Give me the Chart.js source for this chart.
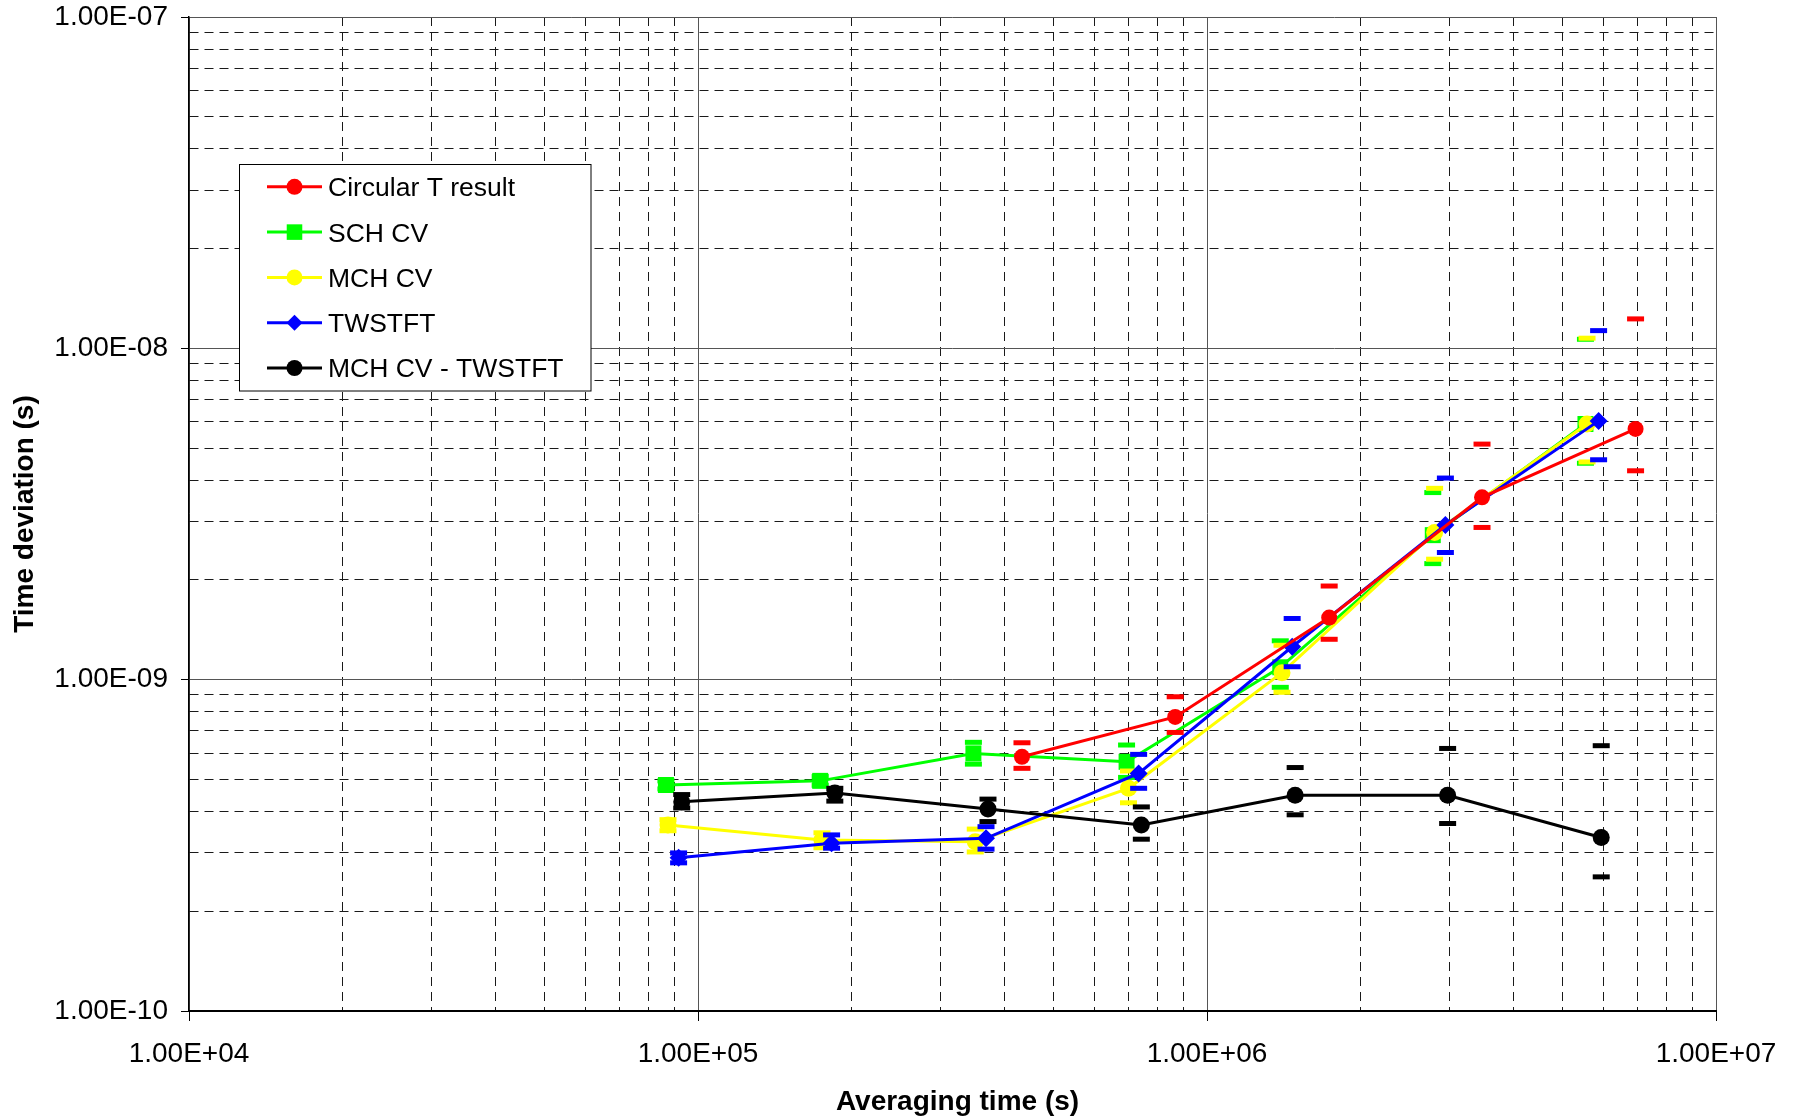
<!DOCTYPE html>
<html>
<head>
<meta charset="utf-8">
<title>Time deviation vs averaging time</title>
<script src="https://cdn.jsdelivr.net/npm/chart.js@4.4.1/dist/chart.umd.min.js"></script>
<style>
  html, body { margin: 0; padding: 0; background: #fff; }
  #wrap { width: 1797px; height: 1118px; }
</style>
</head>
<body>
<div id="wrap"><canvas id="c" width="1797" height="1118"></canvas></div>
<script>
// ---- Data: averaging time (s), time deviation (s), upper / lower uncertainty ----
const circTTau = [433000, 866000, 1738000, 3470000, 6950000];
const circTDev = [5.85e-10, 7.72e-10, 1.54e-9, 3.55e-9, 5.71e-9];
const circTUp  = [6.45e-10, 8.88e-10, 1.917e-9, 5.14e-9, 1.227e-8];
const circTLo  = [5.40e-10, 6.93e-10, 1.324e-9, 2.88e-9, 4.27e-9];

const schTau = [86500, 173800, 347600, 695000, 1393000, 2777000, 5540000];
const schDev = [4.81e-10, 4.95e-10, 5.99e-10, 5.65e-10, 1.09e-9, 2.73e-9, 5.91e-9];
const schUp  = [4.95e-10, 5.10e-10, 6.47e-10, 6.35e-10, 1.31e-9, 3.67e-9, 1.065e-8];
const schLo  = [4.68e-10, 4.80e-10, 5.56e-10, 5.07e-10, 9.48e-10, 2.24e-9, 4.50e-9];

const mchTau = [87300, 175200, 350500, 701000, 1404000, 2800000, 5580000];
const mchDev = [3.64e-10, 3.28e-10, 3.24e-10, 4.70e-10, 1.05e-9, 2.78e-9, 5.91e-9];
const mchUp  = [3.78e-10, 3.45e-10, 3.54e-10, 5.30e-10, 1.27e-9, 3.78e-9, 1.073e-8];
const mchLo  = [3.50e-10, 3.11e-10, 3.02e-10, 4.25e-10, 9.16e-10, 2.31e-9, 4.54e-9];

const twTau = [91600, 183000, 368000, 734000, 1470000, 2940000, 5880000];
const twDev = [2.90e-10, 3.21e-10, 3.32e-10, 5.21e-10, 1.257e-9, 2.93e-9, 6.04e-9];
const twUp  = [3.00e-10, 3.40e-10, 3.60e-10, 5.95e-10, 1.53e-9, 4.06e-9, 1.131e-8];
const twLo  = [2.80e-10, 3.10e-10, 3.08e-10, 4.70e-10, 1.094e-9, 2.42e-9, 4.61e-9];

const diffTau = [92900, 185700, 371300, 743000, 1490000, 2970000, 5950000];
const diffDev = [4.28e-10, 4.55e-10, 4.07e-10, 3.64e-10, 4.48e-10, 4.48e-10, 3.34e-10];
const diffUp  = [4.50e-10, 4.70e-10, 4.36e-10, 4.13e-10, 5.43e-10, 6.20e-10, 6.32e-10];
const diffLo  = [4.10e-10, 4.30e-10, 3.73e-10, 3.30e-10, 3.91e-10, 3.68e-10, 2.54e-10];

const seriesNames = ['Circular T result', 'SCH CV', 'MCH CV', 'TWSTFT', 'MCH CV - TWSTFT'];

const xTickLabels = ['1.00E+04', '1.00E+05', '1.00E+06', '1.00E+07'];
const yTickLabels = ['1.00E-10', '1.00E-09', '1.00E-08', '1.00E-07'];
const xTitle = 'Averaging time (s)';
const yTitle = 'Time deviation (s)';

// ---- Styling ----
const FONT = '"Liberation Sans", Arial, Helvetica, sans-serif';
const styles = [
  { color: '#FF0000', style: 'circle',  radius: 8 },
  { color: '#00FF00', style: 'rect',    radius: 11.3 },
  { color: '#FFFF00', style: 'circle',  radius: 8.5 },
  { color: '#0000FF', style: 'rectRot', radius: 9 },
  { color: '#000000', style: 'circle',  radius: 8.5 }
];

const series = [
  { tau: circTTau, dev: circTDev, up: circTUp, lo: circTLo },
  { tau: schTau,   dev: schDev,   up: schUp,   lo: schLo },
  { tau: mchTau,   dev: mchDev,   up: mchUp,   lo: mchLo },
  { tau: twTau,    dev: twDev,    up: twUp,    lo: twLo },
  { tau: diffTau,  dev: diffDev,  up: diffUp,  lo: diffLo }
];

function pts(xs, ys) { return xs.map((x, i) => ({ x: x, y: ys[i] })); }

function lineDataset(i) {
  const s = series[i], st = styles[i];
  return {
    label: seriesNames[i],
    data: pts(s.tau, s.dev),
    showLine: true,
    borderColor: st.color,
    backgroundColor: st.color,
    borderWidth: 3,
    pointStyle: st.style,
    pointRadius: st.radius,
    pointHoverRadius: st.radius,
    pointBackgroundColor: st.color,
    pointBorderColor: st.color,
    pointBorderWidth: 0,
    tension: 0
  };
}

function capDataset(i) {
  const s = series[i], st = styles[i];
  return {
    label: seriesNames[i] + ' limits',
    data: pts(s.tau, s.up).concat(pts(s.tau, s.lo)),
    showLine: false,
    pointStyle: 'line',
    pointRadius: 8.5,
    pointHoverRadius: 8.5,
    pointBorderColor: st.color,
    pointBackgroundColor: st.color,
    pointBorderWidth: 5
  };
}

// first dataset is painted last (on top)
const drawOrder = [0, 4, 3, 2, 1];
const datasets = [];
drawOrder.forEach(i => { datasets.push(lineDataset(i)); datasets.push(capDataset(i)); });

function decadeValues(lo, hi) {
  const v = [];
  for (let e = lo; e < hi; e++) for (let m = 1; m < 10; m++) v.push(m * Math.pow(10, e));
  v.push(Math.pow(10, hi));
  return v;
}
const xGridValues = decadeValues(4, 7);
const yGridValues = decadeValues(-10, -7);

function isMajor(v) {
  const l = Math.log10(v);
  return Math.abs(l - Math.round(l)) < 1e-6;
}

const gridColor = ctx => (ctx.tick && isMajor(ctx.tick.value)) ? '#555555' : '#1a1a1a';
const gridDash = ctx => (ctx.tick && !isMajor(ctx.tick.value)) ? [9, 6] : [];
const tickColor = ctx => (ctx.tick && isMajor(ctx.tick.value)) ? '#000000' : 'rgba(0,0,0,0)';

// ---- Legend and axis titles ----
function drawMarker(ctx, style, x, y, r) {
  ctx.beginPath();
  if (style === 'circle') {
    ctx.arc(x, y, r, 0, Math.PI * 2);
  } else if (style === 'rect') {
    const h = r * Math.SQRT1_2;
    ctx.rect(x - h, y - h, 2 * h, 2 * h);
  } else {
    ctx.moveTo(x - r, y); ctx.lineTo(x, y - r); ctx.lineTo(x + r, y); ctx.lineTo(x, y + r);
    ctx.closePath();
  }
  ctx.fill();
}

const overlay = {
  id: 'overlay',
  afterDraw(chart) {
    const ctx = chart.ctx;
    const a = chart.chartArea;
    ctx.save();
    ctx.fillStyle = '#000';
    ctx.font = 'bold 28px ' + FONT;
    ctx.textAlign = 'center';
    ctx.textBaseline = 'alphabetic';
    ctx.fillText(xTitle, (a.left + a.right) / 2 + 5, 1110);
    ctx.save();
    ctx.translate(33, (a.top + a.bottom) / 2);
    ctx.rotate(-Math.PI / 2);
    ctx.fillText(yTitle, 0, 0);
    ctx.restore();

    // legend box
    const bx = 239.5, by = 164.5, bw = 351.5, bh = 226.5;
    ctx.fillStyle = '#fff';
    ctx.fillRect(bx, by, bw, bh);
    ctx.strokeStyle = '#000';
    ctx.lineWidth = 1;
    ctx.strokeRect(bx, by, bw, bh);
    ctx.font = '26.5px ' + FONT;
    ctx.textAlign = 'left';
    seriesNames.forEach((name, i) => {
      const cy = 186.8 + i * 45.3;
      const st = styles[i];
      ctx.strokeStyle = st.color;
      ctx.lineWidth = 3;
      ctx.beginPath();
      ctx.moveTo(267, cy); ctx.lineTo(322, cy);
      ctx.stroke();
      ctx.fillStyle = st.color;
      drawMarker(ctx, st.style, 294.5, cy, st.style === 'rect' ? 11 : 8);
      ctx.fillStyle = '#000';
      ctx.fillText(name, 328, cy + 9.4);
    });
    ctx.restore();
  }
};

new Chart(document.getElementById('c'), {
  type: 'scatter',
  data: { datasets: datasets },
  options: {
    responsive: false,
    animation: false,
    devicePixelRatio: 1,
    layout: { padding: { top: 17, right: 81, left: 0, bottom: 0 } },
    plugins: { legend: { display: false }, tooltip: { enabled: false }, title: { display: false } },
    scales: {
      x: {
        type: 'logarithmic',
        min: 1e4, max: 1e7,
        afterBuildTicks: s => { s.ticks = xGridValues.map(v => ({ value: v })); },
        afterFit: s => { s.height = 107; s.paddingLeft = 0; s.paddingRight = 0; },
        ticks: {
          autoSkip: false, maxRotation: 0, minRotation: 0,
          color: '#000', padding: 16,
          font: { family: FONT, size: 28 },
          callback: v => isMajor(v) ? xTickLabels[Math.round(Math.log10(v)) - 4] : ''
        },
        grid: { color: gridColor, lineWidth: 1, tickLength: 10, tickColor: tickColor, tickWidth: 1 },
        border: { display: true, color: '#000', width: 2, dash: gridDash }
      },
      y: {
        type: 'logarithmic',
        min: 1e-10, max: 1e-7,
        afterBuildTicks: s => { s.ticks = yGridValues.map(v => ({ value: v })); },
        afterFit: s => { s.width = 189; s.paddingTop = 0; s.paddingBottom = 0; },
        ticks: {
          autoSkip: false,
          color: '#000', padding: 13,
          font: { family: FONT, size: 28 },
          callback: v => isMajor(v) ? yTickLabels[Math.round(Math.log10(v)) + 10] : ''
        },
        grid: { color: gridColor, lineWidth: 1, tickLength: 8, tickColor: tickColor, tickWidth: 1 },
        border: { display: true, color: '#000', width: 1.5, dash: gridDash }
      }
    }
  },
  plugins: [overlay]
});
</script>
</body>
</html>
